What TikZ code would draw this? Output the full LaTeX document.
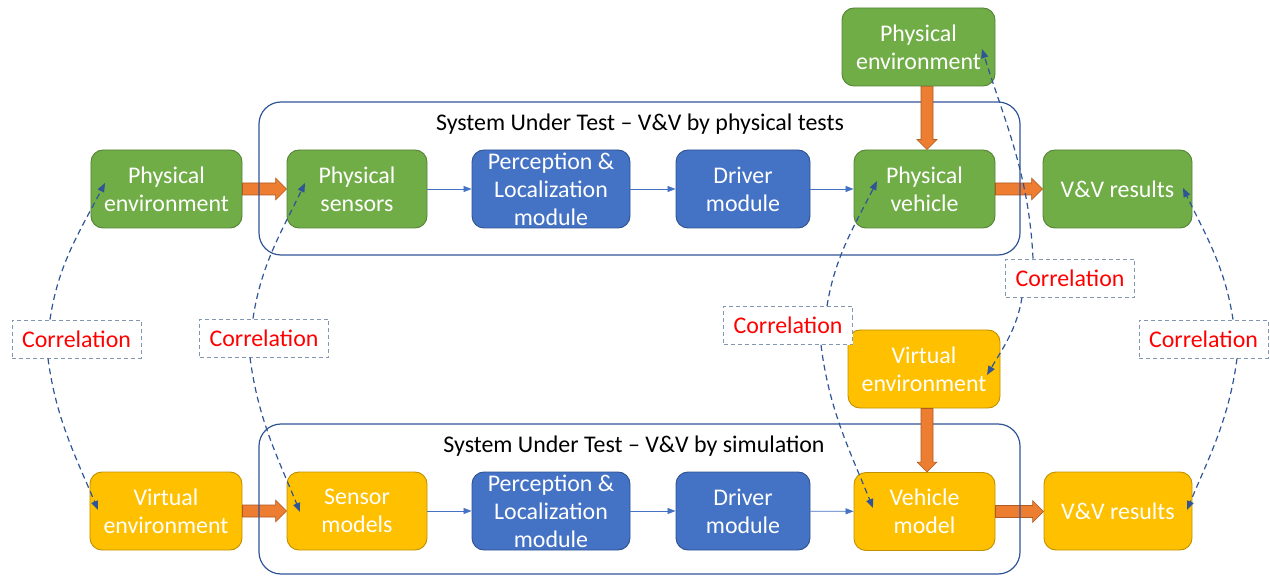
\documentclass[tikz,border=0pt]{standalone}
\usepackage{fontspec}
\setmainfont{Carlito}
\usetikzlibrary{arrows.meta,calc}

\definecolor{grnfill}{HTML}{70AD47}
\definecolor{grnline}{HTML}{548235}
\definecolor{bluefill}{HTML}{4472C4}
\definecolor{blueline}{HTML}{2F528F}
\definecolor{yelfill}{HTML}{FFC000}
\definecolor{yelline}{HTML}{BF9000}
\definecolor{orgfill}{HTML}{ED7D31}
\definecolor{orgline}{HTML}{AE5A21}
\definecolor{framecol}{HTML}{2F5597}
\definecolor{corrline}{HTML}{8497B0}
\definecolor{flowcol}{HTML}{4472C4}

% horizontal block arrow between two nodes
\newcommand\harrow[2]{%
  \draw[blockarr] let \p1=(#1.east), \p2=(#2.west) in
    (\x1,\y1-6bp) -- (\x2-11bp,\y1-6bp) -- (\x2-11bp,\y1-11bp) -- (\x2,\y1)
    -- (\x2-11bp,\y1+11bp) -- (\x2-11bp,\y1+6bp) -- (\x1,\y1+6bp) -- cycle;}
% vertical block arrow between two nodes, slightly right of the target centre
\newcommand\varrow[2]{%
  \draw[blockarr] let \p1=(#1.south), \p2=($(#2.north)+(2.5,0)$) in
    (\x2-6bp,\y1) -- (\x2-6bp,\y2+10bp) -- (\x2-10bp,\y2+10bp) -- (\x2,\y2)
    -- (\x2+10bp,\y2+10bp) -- (\x2+6bp,\y2+10bp) -- (\x2+6bp,\y1) -- cycle;}

\begin{document}
\begin{tikzpicture}[x=1bp,y=-1bp,
  box/.style={rounded corners=12bp, minimum height=78bp, align=center,
    text=white, line width=0.9bp, inner sep=0pt,
    font=\fontsize{24}{28}\selectfont},
  grnbox/.style={box, fill=grnfill, draw=grnline},
  bluebox/.style={box, fill=bluefill, draw=blueline},
  yelbox/.style={box, fill=yelfill, draw=yelline},
  blockarr/.style={fill=orgfill, draw=orgline, line width=0.6bp},
  frame/.style={draw=framecol, line width=1.2bp, rounded corners=22bp},
  title/.style={font=\fontsize{24}{28}\selectfont, text=black},
  flow/.style={draw=flowcol, line width=0.8bp, -{Triangle[length=8bp,width=6bp]}},
  corr/.style={draw=corrline, dash pattern=on 4bp off 3bp, line width=0.9bp,
    fill=white, minimum width=129bp, minimum height=38bp, inner sep=0pt,
    text=red, font=\fontsize{24}{28}\selectfont},
  link/.style={draw=framecol, line width=1.2bp, dash pattern=on 6bp off 4bp,
    -{Triangle[length=9bp,width=7bp]}}
]
\useasboundingbox (0,0) rectangle (1270,576);

% top row: physical tests
\node[grnbox, minimum width=151bp] (pe1) at (166.5,189) {Physical\\environment};
\node[grnbox, minimum width=140bp] (sens) at (357,189) {Physical\\sensors};
\node[bluebox, minimum width=158bp] (perc1) at (551,189) {Perception \&\\Localization\\module};
\node[bluebox, minimum width=134bp] (drv1) at (743,189) {Driver\\module};
\node[grnbox, minimum width=141bp] (veh1) at (924.5,189) {Physical\\vehicle};
\node[grnbox, minimum width=149bp] (vv1) at (1117.5,189) {V\&V results};
\node[grnbox, minimum width=153bp] (pe2) at (918.5,47) {Physical\\environment};

% bottom row: simulation
\node[yelbox, minimum width=152bp] (ve1) at (166,511) {Virtual\\environment};
\node[yelbox, minimum width=140bp] (smod) at (357,511) {Sensor\\models};
\node[bluebox, minimum width=158bp] (perc2) at (551,511) {Perception \&\\Localization\\module};
\node[bluebox, minimum width=134bp] (drv2) at (743,511) {Driver\\module};
\node[yelbox, minimum width=141bp] (vmod) at (924.5,511.5) {Vehicle\\model};
\node[yelbox, minimum width=148bp] (vv2) at (1118,511) {V\&V results};
\node[yelbox, minimum width=152bp] (ve2) at (924,369) {Virtual\\environment};

% horizontal block arrows
\harrow{pe1}{sens}
\harrow{veh1}{vv1}
\harrow{ve1}{smod}
\harrow{vmod}{vv2}

% system under test frames
\path[frame] (259,102) rectangle (1020,255);
\node[title] (t1) at (640,124) {System Under Test – V\&V by physical tests};
\path[frame] (259,424) rectangle (1020,574);
\node[title] (t2) at (634,446) {System Under Test – V\&V by simulation};

% vertical block arrows
\varrow{pe2}{veh1}
\varrow{ve2}{vmod}

% signal flow
\draw[flow] (sens) -- (perc1);
\draw[flow] (perc1) -- (drv1);
\draw[flow] (drv1) -- (veh1);
\draw[flow] (smod) -- (perc2);
\draw[flow] (perc2) -- (drv2);
\draw[flow] (drv2) -- (vmod);

% correlation labels
\node[corr] (c1) at (76.5,339) {Correlation};
\node[corr] (c2) at (264,338) {Correlation};
\node[corr] (c3) at (788,325.5) {Correlation};
\node[corr] (c4) at (1070,278) {Correlation};
\node[corr] (c5) at (1203.5,339) {Correlation};

% correlation links
\draw[link] ($(c1.north)+(-26.5,0)$) .. controls +(8,-55) and +(-25,48) .. ($(pe1)+(-61.5,-6)$);
\draw[link] ($(c1.south)+(-28.5,0)$) .. controls +(8,61) and +(-22,-53) .. ($(ve1)+(-68,-1)$);
\draw[link] ($(c2.north)+(-11,0)$) .. controls +(8,-54) and +(-23,48) .. ($(sens)+(-52,-6)$);
\draw[link] ($(c2.south)+(-14,0)$) .. controls +(8,62) and +(-22,-54) .. ($(smod)+(-57,1)$);
\draw[link] ($(c3.north)+(39,0)$) .. controls +(8,-50) and +(-22,44) .. ($(veh1)+(-47.5,-8)$);
\draw[link] ($(c3.south)+(33,0)$) .. controls +(8,65) and +(-23,-57) .. ($(vmod)+(-51.5,-3.5)$);
\draw[link] ($(c4.north)+(-37,0)$) .. controls +(-4,-84) and +(23,73) .. ($(pe2)+(63.5,2)$);
\draw[link] ($(c4.south)+(-48,0)$) .. controls +(-5,31) and +(16,-27) .. ($(ve2)+(63,6)$);
\draw[link] ($(c5.north)+(29.5,0)$) .. controls +(-8,-53) and +(22,46) .. ($(vv1)+(65.5,-1)$);
\draw[link] ($(c5.south)+(33.5,0)$) .. controls +(-8,61) and +(22,-53) .. ($(vv2)+(69,-1)$);
\end{tikzpicture}
\end{document}
